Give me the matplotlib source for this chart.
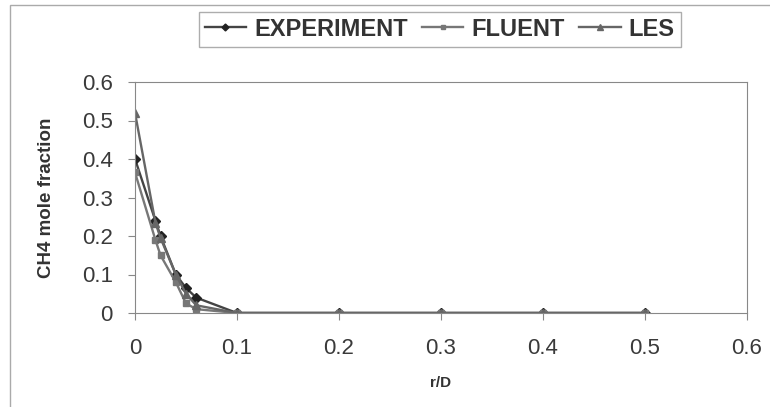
import numpy as np
from matplotlib import pyplot as plt
from matplotlib.patches import Rectangle

plt.rcParams['font.family'] = ['Liberation Sans', 'DejaVu Sans']

# r/D positions and CH4 mole fraction per series
r_exp = [0, 0.02, 0.025, 0.04, 0.05, 0.06, 0.1, 0.2, 0.3, 0.4, 0.5]
y_exp = [0.40, 0.24, 0.20, 0.10, 0.065, 0.04, 0, 0, 0, 0, 0]

r_flu = [0, 0.02, 0.025, 0.04, 0.05, 0.06, 0.1, 0.2, 0.3, 0.4, 0.5]
y_flu = [0.365, 0.19, 0.15, 0.08, 0.025, 0.01, 0, 0, 0, 0, 0]

r_les = [0, 0.02, 0.025, 0.04, 0.05, 0.06, 0.1, 0.2, 0.3, 0.4, 0.5]
y_les = [0.52, 0.235, 0.195, 0.10, 0.05, 0.02, 0, 0, 0, 0, 0]

xticks = [0, 0.1, 0.2, 0.3, 0.4, 0.5, 0.6]
yticks = [0, 0.1, 0.2, 0.3, 0.4, 0.5, 0.6]

fig = plt.figure(figsize=(7.7, 4.07), dpi=100)
fig.patches.append(Rectangle((10 / 770, -0.05), 1.2, 1 - 5 / 407 + 0.05,
                             transform=fig.transFigure, fill=False,
                             edgecolor='#aaaaaa', linewidth=1))
ax = fig.add_axes([135 / 770, 1 - 313 / 407, (747 - 135) / 770, (313 - 82) / 407])

ax.plot(r_exp, y_exp, color='#444444', marker='D', markersize=5, lw=1.7,
        markerfacecolor='#222222', markeredgecolor='#222222', label='EXPERIMENT')
ax.plot(r_flu, y_flu, color='#777777', marker='s', markersize=5, lw=1.7, label='FLUENT')
ax.plot(r_les, y_les, color='#666666', marker='^', markersize=5.5, lw=1.7, label='LES')

ax.set_xlim(0, 0.6)
ax.set_ylim(0, 0.6)
ax.set_xticks(xticks)
ax.set_yticks(yticks)
ax.set_xticklabels([f'{t:g}' for t in xticks])
ax.set_yticklabels([f'{t:g}' for t in yticks])
ax.tick_params(labelsize=16, labelcolor='#3a3a3a', color='#888888', length=5)
ax.tick_params(axis='y', pad=11)
ax.tick_params(axis='x', pad=13)
for s in ax.spines.values():
    s.set_color('#888888')

ax.set_xlabel('r/D', fontsize=11, fontweight='bold', color='#333333', labelpad=12)
ax.set_ylabel('CH4 mole fraction', fontsize=13.5, fontweight='bold', color='#333333', labelpad=19)

leg = ax.legend(loc='center', bbox_to_anchor=(0.498, 1.229), ncol=3, frameon=True,
                fancybox=False, edgecolor='#999999', handlelength=1.75,
                columnspacing=0.6, handletextpad=0.35, borderpad=0.25,
                markerscale=0.7, prop={'size': 17, 'weight': 'bold'})
for t in leg.get_texts():
    t.set_color('#333333')

plt.savefig('out.png', dpi=100)
